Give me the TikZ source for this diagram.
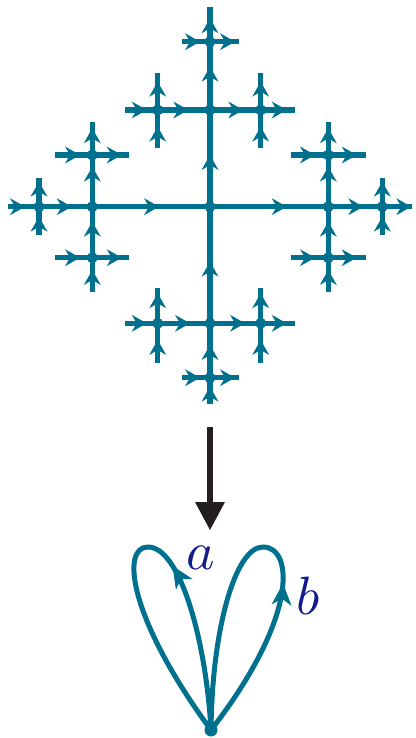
\documentclass[tikz,border=0pt]{standalone}
\usetikzlibrary{arrows.meta,decorations.markings}
\definecolor{tealc}{RGB}{0,112,143}
\definecolor{labc}{RGB}{18,28,140}
\definecolor{blk}{RGB}{35,31,32}
\tikzset{
  tree/.style={draw=tealc, line width=5.2pt},
  TreeTip/.tip={Stealth[length=15pt,width=17pt,inset=5pt,line width=0pt]},
  LoopTip/.tip={Stealth[length=22pt,width=20pt,inset=6.5pt,line width=0pt]},
  dot/.style={fill=tealc, circle, inner sep=0pt, minimum size=11pt},
  loopline/.style={draw=tealc, line width=5pt},
  bigarrow/.style={draw=blk, line width=5.5pt, -{Triangle[length=28pt,width=30pt,line width=0pt]}},
  lab/.style={text=labc, inner sep=0pt, scale=5.4},
}
\newcommand\tedge[3]{\draw[tree, postaction={decorate, decoration={markings, mark=at position #3pt with {\arrow[tealc]{TreeTip}}}}] (#1) -- (#2);}
\begin{document}
\begin{tikzpicture}[x=1pt,y=-1pt]
\useasboundingbox (0,0) rectangle (415,738);
% internal vertices
\coordinate (O) at (210,206.7);
\coordinate (R) at (328.3,206.7);
\coordinate (L) at (92.3,206.7);
\coordinate (U) at (210,110);
\coordinate (D) at (210,323.3);
\coordinate (UU) at (210,41.7);
\coordinate (UL) at (157.7,110);
\coordinate (UR) at (260.7,110);
\coordinate (DD) at (210,377.7);
\coordinate (DL) at (157.7,323.3);
\coordinate (DR) at (260.7,323.3);
\coordinate (RR) at (382.3,206.7);
\coordinate (RU) at (328.3,155);
\coordinate (RD) at (328.3,257.7);
\coordinate (LL) at (39,206.7);
\coordinate (LU) at (92.3,155);
\coordinate (LD) at (92.3,257.7);
% leaves
\coordinate (UUu) at (210,6.7);
\coordinate (UUl) at (181.7,41.7);
\coordinate (UUr) at (239,41.7);
\coordinate (ULl) at (125,110);
\coordinate (ULu) at (157.7,73.3);
\coordinate (ULd) at (157.7,148.3);
\coordinate (URr) at (295,110);
\coordinate (URu) at (260.7,73.3);
\coordinate (URd) at (260.7,148.3);
\coordinate (DDd) at (210,404.3);
\coordinate (DDl) at (181.7,377.7);
\coordinate (DDr) at (239,377.7);
\coordinate (DLl) at (125,323.3);
\coordinate (DLu) at (157.7,287.7);
\coordinate (DLd) at (157.7,362.7);
\coordinate (DRr) at (295,323.3);
\coordinate (DRu) at (260.7,287.7);
\coordinate (DRd) at (260.7,362.7);
\coordinate (RRr) at (412.3,206.7);
\coordinate (RRu) at (382.3,177.7);
\coordinate (RRd) at (382.3,235);
\coordinate (RUu) at (328.3,122.3);
\coordinate (RUl) at (290.7,155);
\coordinate (RUr) at (365.7,155);
\coordinate (RDd) at (328.3,292.3);
\coordinate (RDl) at (290.7,257.7);
\coordinate (RDr) at (365.7,257.7);
\coordinate (LLl) at (8.3,206.7);
\coordinate (LLu) at (39,177.7);
\coordinate (LLd) at (39,235);
\coordinate (LUu) at (92.3,122.3);
\coordinate (LUl) at (55,155);
\coordinate (LUr) at (129.3,155);
\coordinate (LDd) at (92.3,292.3);
\coordinate (LDl) at (55,257.7);
\coordinate (LDr) at (129.3,257.7);
% main horizontal
\tedge{LLl}{LL}{16.7}
\tedge{LL}{L}{32.7}
\tedge{L}{O}{66.7}
\tedge{O}{R}{76.7}
\tedge{R}{RR}{35}
\tedge{RR}{RRr}{29}
% main vertical
\tedge{DDd}{DD}{17.6}
\tedge{DD}{D}{32.7}
\tedge{D}{O}{61.6}
\tedge{O}{U}{51.7}
\tedge{U}{UU}{43.3}
\tedge{UU}{UUu}{23.4}
% top branch
\tedge{UUl}{UU}{18.3}
\tedge{UU}{UUr}{25}
\tedge{ULl}{UL}{21.7}
\tedge{UL}{U}{30.6}
\tedge{U}{UR}{33.3}
\tedge{UR}{URr}{26}
\tedge{ULd}{UL}{21.6}
\tedge{UL}{ULu}{28.3}
\tedge{URd}{UR}{21.6}
\tedge{UR}{URu}{28.3}
% bottom branch
\tedge{DDl}{DD}{18.3}
\tedge{DD}{DDr}{25}
\tedge{DLl}{DL}{21.7}
\tedge{DL}{D}{32.3}
\tedge{D}{DR}{35}
\tedge{DR}{DRr}{26}
\tedge{DLd}{DL}{22.7}
\tedge{DL}{DLu}{30}
\tedge{DRd}{DR}{22.7}
\tedge{DR}{DRu}{30}
% left branch
\tedge{LUl}{LU}{25}
\tedge{LU}{LUr}{29.4}
\tedge{LU}{LUu}{26.7}
\tedge{L}{LU}{40}
\tedge{LD}{L}{36}
\tedge{LDd}{LD}{22.3}
\tedge{LDl}{LD}{25}
\tedge{LD}{LDr}{29.4}
\tedge{LLd}{LL}{18.3}
\tedge{LL}{LLu}{25}
% right branch
\tedge{RUl}{RU}{24.3}
\tedge{RU}{RUr}{28.4}
\tedge{RU}{RUu}{26.7}
\tedge{R}{RU}{40}
\tedge{RD}{R}{36}
\tedge{RDd}{RD}{22.3}
\tedge{RDl}{RD}{24.3}
\tedge{RD}{RDr}{28.4}
\tedge{RRd}{RR}{18.3}
\tedge{RR}{RRu}{25}
% dots
\foreach \v in {O,R,L,U,D,UU,UL,UR,DD,DL,DR,RR,RU,RD,LL,LU,LD}
  \node[dot] at (\v) {};
% big arrow
\coordinate (A1) at (210,427);
\coordinate (A2) at (210,530);
\draw[bigarrow] (A1) -- (A2);
% wedge of two circles
\coordinate (B) at (211,730);
\coordinate (T1) at (148,547);
\coordinate (T2) at (263,547);
\draw[loopline] (B) .. controls (206,640) and (180,547) .. (T1)
  .. controls (120,547) and (130,620) .. (B);
\draw[tealc, decorate, decoration={markings, mark=at position 0.84 with {\arrow[tealc]{LoopTip}}}]
  (B) .. controls (206,640) and (180,547) .. (T1);
\draw[loopline] (B) .. controls (298,618) and (294,547) .. (T2)
  .. controls (235,547) and (212,630) .. (B);
\draw[tealc, decorate, decoration={markings, mark=at position 0.78 with {\arrow[tealc]{LoopTip}}}]
  (B) .. controls (298,618) and (294,547) .. (T2);
\node[dot, minimum size=13pt] (base) at (B) {};
\node[lab] (la) at (201,558) {$a$};
\node[lab] (lb) at (308,596) {$b$};
\end{tikzpicture}
\end{document}
